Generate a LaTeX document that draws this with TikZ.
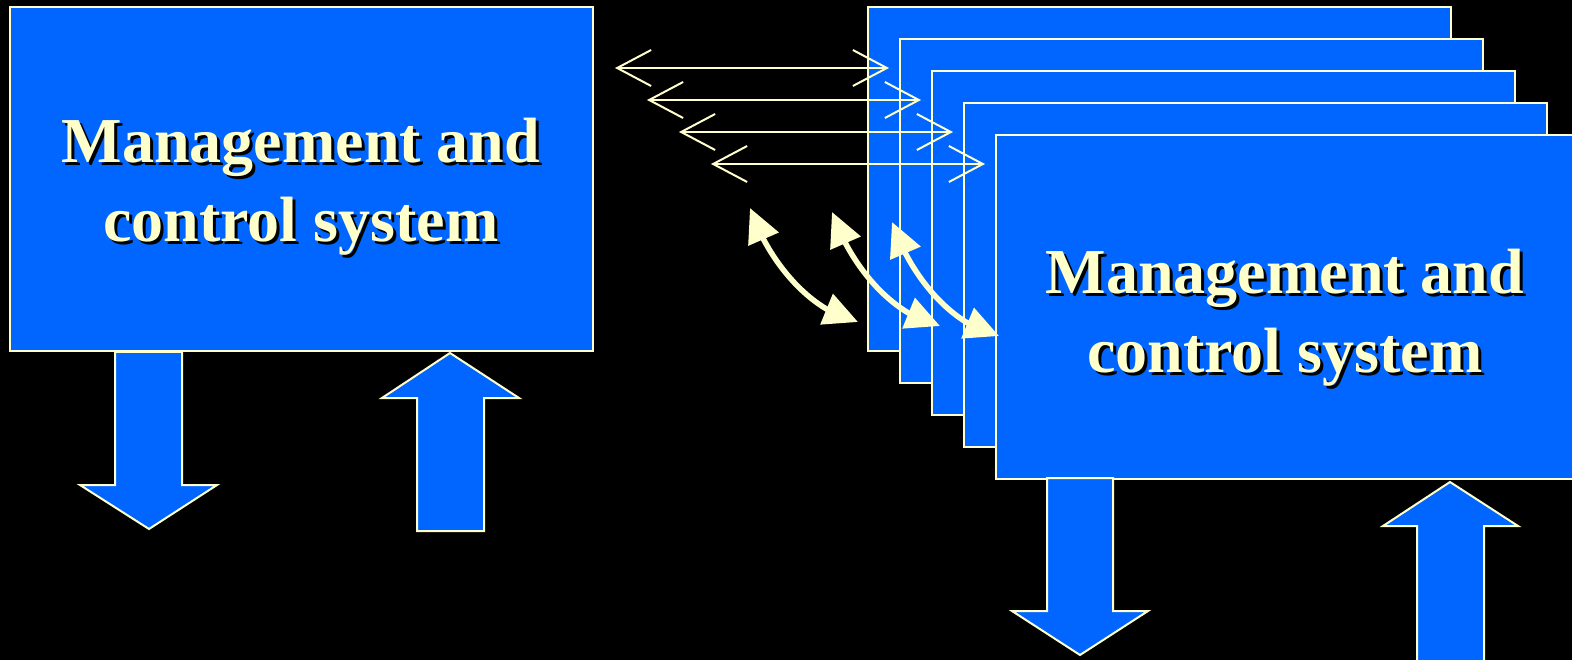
\documentclass[tikz,border=0pt]{standalone}
\usepackage{fontspec}
\setmainfont{Liberation Serif}
\usetikzlibrary{arrows.meta,
                bending,
                positioning}

\definecolor{slideblue}{HTML}{0066FF}
\definecolor{cream}{HTML}{FFFFCC}

\tikzset{
sysbox/.style = {rectangle, draw=cream, line width=2pt, fill=slideblue,
                 minimum width=583pt, minimum height=344pt, inner sep=0pt},
boxtext/.style = {text=cream, align=center, inner sep=0pt,
                  font=\bfseries\fontsize{64}{79}\selectfont},
boxshadow/.style = {boxtext, text=black},
blockarrow/.style = {draw=cream, line width=2pt, fill=slideblue},
link/.style = {draw=cream, line width=2pt,
               {Straight Barb[length=34pt,width=36pt]}-{Straight Barb[length=34pt,width=36pt]}},
exchange/.style = {draw=cream, line width=5.5pt,
                   {Triangle[length=34pt,width=32pt]}-{Triangle[length=34pt,width=32pt]}}
}

\begin{document}
\begin{tikzpicture}[x=1pt, y=-1pt]
\useasboundingbox (0,0) rectangle (1572,660);
\fill[black] (0,0) rectangle (1572,660);
\clip (0,0) rectangle (1572,660);

% single system on the left
\node[sysbox] (mcs) at (301,179) {};
\node[boxshadow] (mcsshadow) at (304,190) {Management and\\control system};
\node[boxtext] (mcstext) at (301,187) {Management and\\control system};

% stack of systems on the right
\foreach \i in {1,...,5}
    \node[sysbox] (rack\i) at ({1159+32*(\i-1)}, {179+32*(\i-1)}) {};
\node[boxshadow] (rackshadow) at (1288,321) {Management and\\control system};
\node[boxtext] (racktext) at (1285,318) {Management and\\control system};

% in and out of each system
\draw[blockarrow] (115,352) -- (182,352) -- (182,485) -- (217,485)
                  -- (149,529) -- (80,485) -- (115,485) -- cycle;
\draw[blockarrow] (450,353) -- (519,398) -- (484,398) -- (484,531)
                  -- (417,531) -- (417,398) -- (382,398) -- cycle;
\draw[blockarrow] (1047,478) -- (1113,478) -- (1113,611) -- (1148,611)
                  -- (1080,655) -- (1012,611) -- (1047,611) -- cycle;
\draw[blockarrow] (1450,482) -- (1518,526) -- (1484,526) -- (1484,690)
                  -- (1417,690) -- (1417,526) -- (1383,526) -- cycle;

% links to the stack
\foreach \i in {1,...,4}
  {
    \coordinate (ll\i) at ({615+32*(\i-1)}, {68+32*(\i-1)});
    \coordinate (lr\i) at ({889+32*(\i-1)}, {68+32*(\i-1)});
    \draw[link] (ll\i) -- (lr\i);
  }

% exchange between neighbours
\coordinate (ea) at (750,208);  \coordinate (eb) at (858,322);
\coordinate (fa) at (832,212);  \coordinate (fb) at (940,326);
\coordinate (ga) at (892,222);  \coordinate (gb) at (999,336);
\draw[exchange] (ea) .. controls +(16,48) and +(-52,-12) .. (eb);
\draw[exchange] (fa) .. controls +(16,48) and +(-52,-12) .. (fb);
\draw[exchange] (ga) .. controls +(16,48) and +(-52,-12) .. (gb);
\end{tikzpicture}
\end{document}
